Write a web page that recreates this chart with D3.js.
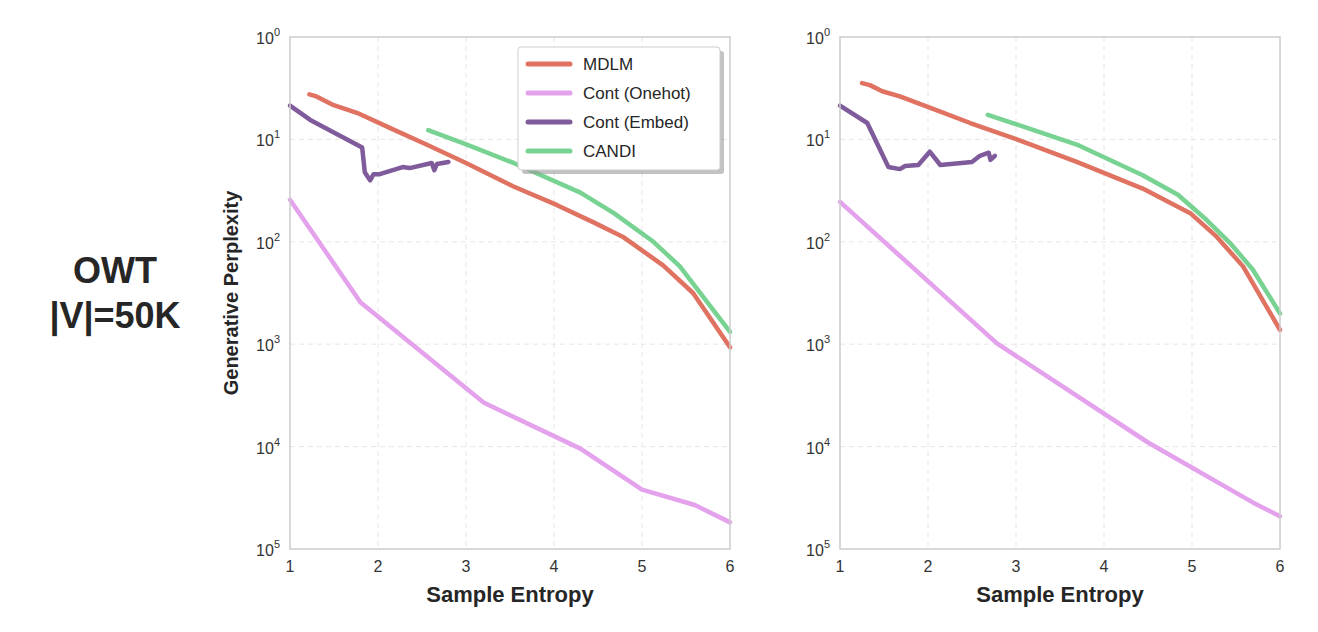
<!DOCTYPE html>
<html><head><meta charset="utf-8">
<script src="https://cdn.jsdelivr.net/npm/d3@7"></script>
<style>body{margin:0;background:#fff;font-family:"Liberation Sans",Arial,sans-serif}</style>
</head><body><svg id="chart" width="1318" height="632"></svg>
<script>
// values are log10(perplexity)
const seriesNames = ["MDLM", "Cont (Onehot)", "Cont (Embed)", "CANDI"];
const colors = ["#e07262", "#e4a1ec", "#7f5b9b", "#78d291"];

const leftMdlm = [[1.22,0.56],[1.3,0.58],[1.48,0.66],[1.76,0.74],[2.14,0.89],[2.55,1.05],[3.0,1.23],[3.54,1.46],[4.03,1.64],[4.45,1.81],[4.78,1.95],[5.24,2.23],[5.58,2.5],[6.0,3.03]];
const leftOnehot = [[1.0,1.59],[1.8,2.59],[3.2,3.57],[4.3,4.02],[5.0,4.42],[5.6,4.57],[6.0,4.74]];
const leftEmbed = [[1.0,0.67],[1.23,0.81],[1.82,1.08],[1.85,1.32],[1.91,1.4],[1.95,1.34],[2.02,1.34],[2.28,1.27],[2.36,1.28],[2.61,1.23],[2.64,1.3],[2.67,1.24],[2.8,1.22]];
const leftCandi = [[2.57,0.91],[3.01,1.05],[3.54,1.23],[4.3,1.52],[4.68,1.72],[5.13,2.0],[5.43,2.24],[6.0,2.88]];

const rightMdlm = [[1.25,0.45],[1.34,0.47],[1.48,0.53],[1.68,0.58],[2.02,0.69],[2.48,0.84],[3.01,1.0],[3.69,1.22],[4.44,1.48],[4.98,1.72],[5.28,1.95],[5.58,2.24],[6.0,2.86]];
const rightOnehot = [[1.0,1.61],[2.78,2.99],[4.5,3.96],[5.7,4.55],[6.0,4.68]];
const rightEmbed = [[1.0,0.67],[1.31,0.84],[1.55,1.27],[1.68,1.29],[1.74,1.26],[1.89,1.25],[2.02,1.12],[2.14,1.25],[2.5,1.22],[2.59,1.16],[2.69,1.13],[2.71,1.2],[2.76,1.16]];
const rightCandi = [[2.68,0.76],[3.69,1.05],[4.44,1.35],[4.84,1.54],[5.17,1.79],[5.43,2.01],[5.69,2.27],[6.0,2.7]];

const xTicks = [1, 2, 3, 4, 5, 6];
const yTicks = [0, 1, 2, 3, 4, 5];

const svg = d3.select("#chart");
const plotTop = 37, plotBottom = 549;

function panel(x0, x1, lines, showYLabel, showLegend) {
  const x = d3.scaleLinear().domain([1, 6]).range([x0, x1]);
  const y = d3.scaleLog().domain([1, 1e5]).range([plotTop, plotBottom]);
  const g = svg.append("g");

  g.selectAll(".gx").data(xTicks.slice(1, -1)).join("line")
    .attr("x1", d => x(d)).attr("x2", d => x(d)).attr("y1", plotTop).attr("y2", plotBottom)
    .attr("stroke", "#e6e6e6").attr("stroke-dasharray", "5,4");
  g.selectAll(".gy").data(yTicks.slice(1, -1)).join("line")
    .attr("y1", d => y(10 ** d)).attr("y2", d => y(10 ** d)).attr("x1", x0).attr("x2", x1)
    .attr("stroke", "#e6e6e6").attr("stroke-dasharray", "5,4");

  const line = d3.line().x(d => x(d[0])).y(d => y(10 ** d[1]));
  lines.forEach((pts, i) => {
    g.append("path").attr("d", line(pts)).attr("fill", "none")
      .attr("stroke", colors[i]).attr("stroke-width", 4.5)
      .attr("stroke-linejoin", "round").attr("stroke-linecap", "round");
  });

  g.append("rect").attr("x", x0).attr("y", plotTop).attr("width", x1 - x0).attr("height", plotBottom - plotTop)
    .attr("fill", "none").attr("stroke", "#cccccc").attr("stroke-width", 1.5);

  g.selectAll(".xt").data(xTicks).join("text")
    .attr("x", d => x(d)).attr("y", plotBottom + 23).attr("text-anchor", "middle")
    .attr("font-size", 16).attr("fill", "#333").text(d => d);
  const yt = g.selectAll(".yt").data(yTicks).join("text")
    .attr("x", x0 - 10).attr("y", d => y(10 ** d) + 7).attr("text-anchor", "end")
    .attr("font-size", 16).attr("fill", "#333");
  yt.append("tspan").text("10");
  yt.append("tspan").attr("dy", -8).attr("font-size", 11).text(d => d);

  g.append("text").attr("x", (x0 + x1) / 2).attr("y", 602).attr("text-anchor", "middle")
    .attr("font-size", 22).attr("font-weight", "bold").attr("fill", "#262626").text("Sample Entropy");
  if (showYLabel) {
    g.append("text").attr("transform", `translate(238,${(plotTop + plotBottom) / 2}) rotate(-90)`)
      .attr("text-anchor", "middle").attr("font-size", 20).attr("font-weight", "bold")
      .attr("fill", "#262626").text("Generative Perplexity");
  }
  if (showLegend) {
    const lx = 518, ly = 47, lw = 202, lh = 123;
    g.append("rect").attr("x", lx + 4).attr("y", ly + 4).attr("width", lw).attr("height", lh)
      .attr("rx", 3).attr("fill", "#999").attr("opacity", 0.6);
    g.append("rect").attr("x", lx).attr("y", ly).attr("width", lw).attr("height", lh)
      .attr("rx", 3).attr("fill", "#fff").attr("stroke", "#ccc");
    seriesNames.forEach((n, i) => {
      const yy = ly + 17 + i * 29;
      g.append("line").attr("x1", lx + 10).attr("x2", lx + 52).attr("y1", yy).attr("y2", yy)
        .attr("stroke", colors[i]).attr("stroke-width", 5).attr("stroke-linecap", "round");
      g.append("text").attr("x", lx + 65).attr("y", yy + 6).attr("font-size", 17)
        .attr("fill", "#262626").text(n);
    });
  }
}

panel(290, 730, [leftMdlm, leftOnehot, leftEmbed, leftCandi], true, true);
panel(840, 1280, [rightMdlm, rightOnehot, rightEmbed, rightCandi], false, false);

svg.append("text").attr("x", 115).attr("y", 283).attr("text-anchor", "middle")
  .attr("font-size", 36).attr("font-weight", "bold").attr("fill", "#262626").text("OWT");
svg.append("text").attr("x", 115).attr("y", 328).attr("text-anchor", "middle")
  .attr("font-size", 36).attr("font-weight", "bold").attr("fill", "#262626").text("|V|=50K");
</script></body></html>
